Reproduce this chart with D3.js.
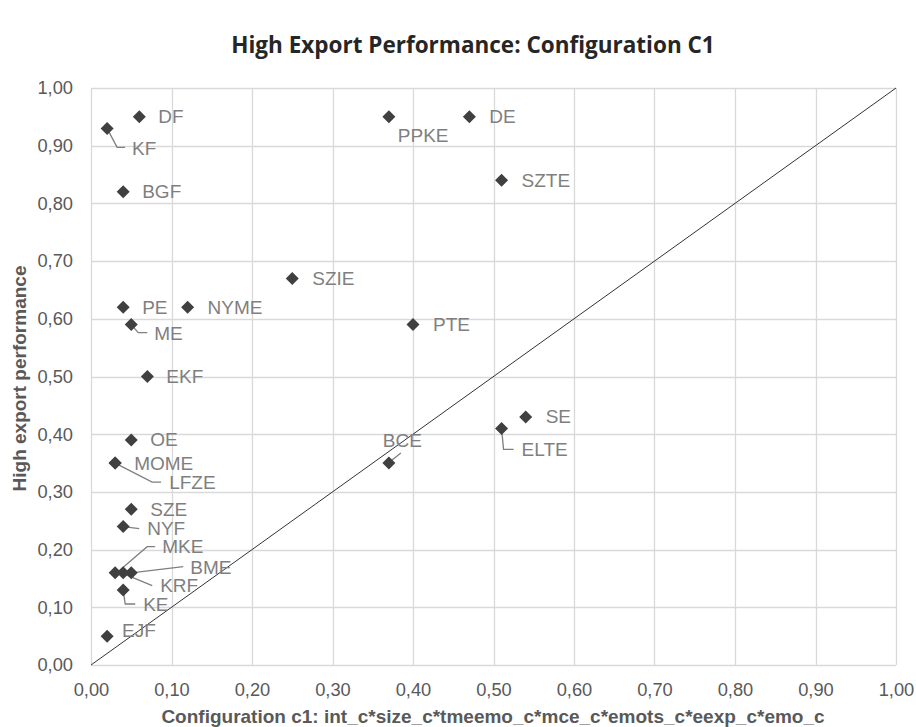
<!DOCTYPE html>
<html>
<head>
<meta charset="utf-8">
<script src="https://cdn.jsdelivr.net/npm/d3@7"></script>
<style>
  body { margin: 0; background: #fff; }
  svg { display: block; }
</style>
</head>
<body>
<svg id="chart" width="916" height="727"></svg>
<script>
// ---- data ----
const names = ["DF","KF","BGF","DE","PPKE","SZTE","SZIE","PE","NYME","ME","PTE","EKF","SE","ELTE","OE","BCE","MOME","LFZE","SZE","NYF","MKE","BME","KRF","KE","EJF"];
const xValues = [0.06,0.02,0.04,0.47,0.37,0.51,0.25,0.04,0.12,0.05,0.40,0.07,0.54,0.51,0.05,0.37,0.03,0.03,0.05,0.04,0.03,0.05,0.04,0.04,0.02];
const yValues = [0.95,0.93,0.82,0.95,0.95,0.84,0.67,0.62,0.62,0.59,0.59,0.50,0.43,0.41,0.39,0.35,0.35,0.35,0.27,0.24,0.16,0.16,0.16,0.13,0.05];
const tickValues = [0,0.1,0.2,0.3,0.4,0.5,0.6,0.7,0.8,0.9,1.0];
const titleText = "High Export Performance: Configuration C1";
const xTitle = "Configuration c1: int_c*size_c*tmeemo_c*mce_c*emots_c*eexp_c*emo_c";
const yTitle = "High export performance";

// label placement (pixel offsets from marker) and leader lines
const labelOffsets = {
  DF:[19,0], KF:[25,20], BGF:[19,0], DE:[20,0], PPKE:[9,19], SZTE:[20,0], SZIE:[20,0],
  PE:[19,0], NYME:[20,0], ME:[23,9], PTE:[20,0], EKF:[19,0], SE:[20,0], ELTE:[20,21],
  OE:[19,0], BCE:[-6,-23], MOME:[19,0], LFZE:[54,19], SZE:[19,0], NYF:[24,2],
  MKE:[47,-26], BME:[59,-5], KRF:[37,13], KE:[20,15], EJF:[15,-6]
};
const leaders = {
  KF:[[0,0],[10,19],[18,19]],
  ME:[[0,0],[7,8],[16,8]],
  ELTE:[[0,0],[2,21],[12,21]],
  BCE:[[2,-2],[12,-10]],
  LFZE:[[0,0],[37,19],[46,19]],
  NYF:[[0,0],[16,2]],
  MKE:[[4,-2],[32,-26],[40,-26]],
  BME:[[2,0],[52,-6]],
  KRF:[[0,1],[29,13]],
  KE:[[0,0],[2,14],[12,14]]
};

// ---- layout ----
const svg = d3.select("#chart");
const margin = {left:91, right:20, top:88, bottom:62};
const W = 916, H = 727;
const x = d3.scaleLinear().domain([0,1]).range([margin.left, W - margin.right]);
const y = d3.scaleLinear().domain([0,1]).range([H - margin.bottom, margin.top]);
const fmt = d => d3.format(".2f")(d).replace(".", ",");

// gridlines
const grid = svg.append("g");
grid.selectAll("line.v").data(tickValues).join("line")
  .attr("x1", d => Math.round(x(d)) + 0.5).attr("x2", d => Math.round(x(d)) + 0.5)
  .attr("y1", y(0)).attr("y2", y(1))
  .attr("stroke", "#d9d9d9").attr("stroke-width", 1.3);
grid.selectAll("line.h").data(tickValues).join("line")
  .attr("y1", d => Math.round(y(d)) + 0.5).attr("y2", d => Math.round(y(d)) + 0.5)
  .attr("x1", x(0)).attr("x2", x(1))
  .attr("stroke", "#d9d9d9").attr("stroke-width", 1.3);

// axes (labels only)
const xAxis = svg.append("g").attr("transform", `translate(0,${y(0)})`)
  .call(d3.axisBottom(x).tickValues(tickValues).tickFormat(fmt).tickSize(0).tickPadding(18));
const yAxis = svg.append("g").attr("transform", `translate(${x(0)},0)`)
  .call(d3.axisLeft(y).tickValues(tickValues).tickFormat(fmt).tickSize(0).tickPadding(18));
[xAxis, yAxis].forEach(a => {
  a.select(".domain").remove();
  a.selectAll("text").attr("font-family", "Liberation Sans, Arial, sans-serif")
    .attr("font-size", 18.3).attr("fill", "#595959");
});

// diagonal reference line
svg.append("line")
  .attr("x1", x(0)).attr("y1", y(0)).attr("x2", x(1)).attr("y2", y(1))
  .attr("stroke", "#333").attr("stroke-width", 1);

// leader lines
const line = d3.line();
names.forEach((n, i) => {
  if (!leaders[n]) return;
  const px = x(xValues[i]), py = y(yValues[i]);
  svg.append("path")
    .attr("d", line(leaders[n].map(p => [px + p[0], py + p[1]])))
    .attr("fill", "none").attr("stroke", "#7f7f7f").attr("stroke-width", 1.3);
});

// markers
const r = 6.5;
svg.append("g").selectAll("path").data(names).join("path")
  .attr("d", (n, i) => {
    const px = x(xValues[i]), py = y(yValues[i]);
    return `M${px},${py - r}L${px + r},${py}L${px},${py + r}L${px - r},${py}Z`;
  })
  .attr("fill", "#404040");

// data labels
svg.append("g").selectAll("text").data(names).join("text")
  .attr("x", (n, i) => x(xValues[i]) + labelOffsets[n][0])
  .attr("y", (n, i) => y(yValues[i]) + labelOffsets[n][1])
  .attr("dominant-baseline", "central")
  .attr("font-family", "Liberation Sans, Arial, sans-serif")
  .attr("font-size", 19).attr("fill", "#7f7f7f")
  .text(n => n);

// title
svg.append("text").attr("x", 473).attr("y", 53).attr("text-anchor", "middle")
  .attr("font-family", "Open Sans, Noto Sans, sans-serif").attr("font-weight", "bold")
  .attr("font-size", 22.5).attr("fill", "#262626").text(titleText);

// axis titles
svg.append("text").attr("x", 493).attr("y", 723).attr("text-anchor", "middle")
  .attr("font-family", "Liberation Sans, Arial, sans-serif").attr("font-weight", "bold")
  .attr("font-size", 19).attr("fill", "#595959").text(xTitle);
svg.append("text").attr("transform", `translate(26,${(y(0)+y(1))/2 + 2}) rotate(-90)`)
  .attr("text-anchor", "middle")
  .attr("font-family", "Liberation Sans, Arial, sans-serif").attr("font-weight", "bold")
  .attr("font-size", 19).attr("fill", "#595959").text(yTitle);
</script>
</body>
</html>
